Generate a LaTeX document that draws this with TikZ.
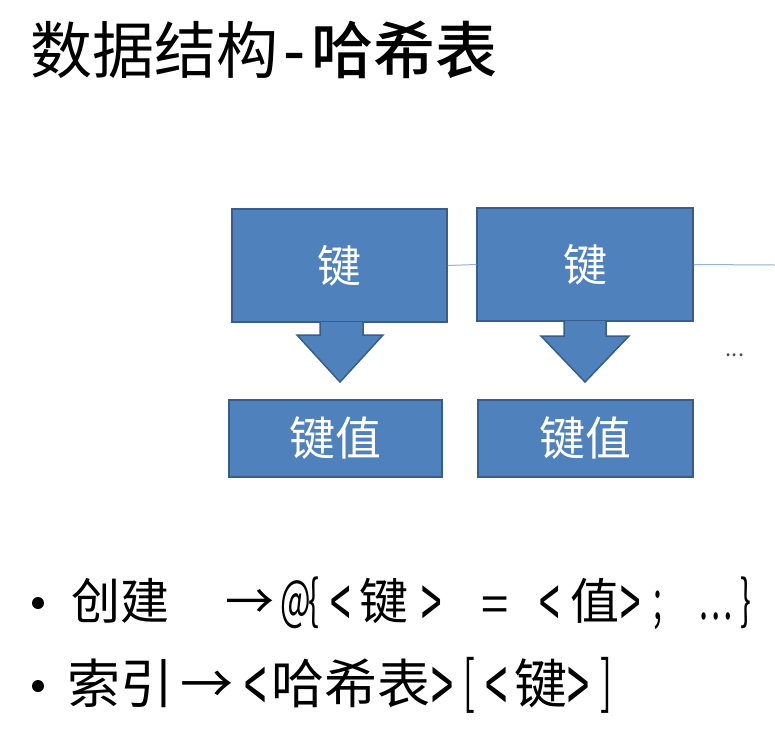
\documentclass[tikz,border=0pt]{standalone}
\usepackage{fontspec}
\setmainfont{Noto Sans CJK SC}
\newfontfamily\titlebold{Noto Sans CJK SC Medium}
\newfontfamily\narrow[Scale=1.1,FakeStretch=0.6]{Noto Sans CJK SC}
\newfontfamily\narrowbig[Scale=1.5,FakeStretch=0.5]{Noto Sans CJK SC}
\definecolor{boxblue}{RGB}{79,129,189}
\definecolor{boxedge}{RGB}{56,93,138}
\definecolor{linkblue}{RGB}{150,178,214}
% put #2 centred at x = #1 (line nodes start at x = 0)
\newcommand\putc[2]{\makebox[0pt][l]{\hspace*{#1pt}\makebox[0pt]{#2}}}
\newcommand\putn[2]{\putc{#1}{\narrow #2}}
\newcommand\putm[2]{\putc{#1}{\narrowbig\raisebox{-0.14em}{#2}}}
\tikzset{
  keybox/.style={draw=boxedge,fill=boxblue,line width=1.5pt,text=white,
    inner sep=0pt,font=\fontsize{44}{44}\selectfont},
  downarrow/.style={draw=boxedge,fill=boxblue,line width=1.5pt,line join=miter},
  link/.style={draw=linkblue,line width=1pt},
  bulletdot/.style={circle,fill=black,inner sep=0pt,minimum size=12pt},
  linetext/.style={anchor=base west,inner sep=0pt},
}
\begin{document}
\begin{tikzpicture}[x=1pt,y=-1pt]
\useasboundingbox[fill=white] (0,0) rectangle (775,729);

\node[anchor=base west,inner sep=0pt,font=\fontsize{62}{62}\selectfont] (title) at (30,73)
  {数据结构{\titlebold\hspace{5pt}-\hspace{6pt}哈希表}};

\node[keybox,minimum width=215pt,minimum height=113pt] (key1) at (339.5,265.5) {键};
\node[keybox,minimum width=216pt,minimum height=113pt] (key2) at (585,264.5) {键};
\node[keybox,minimum width=213pt,minimum height=77pt,font=\fontsize{46}{46}\selectfont] (val1) at (335.5,438.5) {键值};
\node[keybox,minimum width=215pt,minimum height=77pt,font=\fontsize{46}{46}\selectfont] (val2) at (585.5,438.5) {键值};

\draw[downarrow] (320,322) -- (320,335) -- (297,335) -- (340,382) -- (383,335) -- (363,335) -- (363,322);
\draw[downarrow] (564,321) -- (564,336) -- (541,336) -- (585,382) -- (629,336) -- (606,336) -- (606,321);

\coordinate (more) at (775,265);
\draw[link] (key1.east) -- (key2.west);
\draw[link] (key2.east) -- (more);
\node[inner sep=0pt,text=black!70,font=\fontsize{22}{22}\selectfont] (gap) at (735,355) {...};

\node[bulletdot] (dot1) at (38,603) {};
\node[linetext,font=\fontsize{49}{49}\selectfont] (create) at (0,619)
  {\putc{120}{创建}\putc{249}{→}\putn{295}{@}\putn{313}{\{}\putm{340}{<}\putc{383}{键}%
   \putm{431}{>}\putc{494}{\raisebox{-3pt}{=}}\putm{549}{<}\putc{594}{值}\putm{630}{>}\putn{657}{;}%
   \putn{715}{…}\putn{745}{\}}};
\node[bulletdot] (dot2) at (38,686) {};
\node[linetext,font=\fontsize{53}{53}\selectfont] (index) at (0,703)
  {\putc{120}{索引}\putc{206}{→}\putm{255}{<}\putc{350}{哈希表}\putm{442}{>}\putn{469}{[}%
   \putm{496}{<}\putc{540}{键}\putm{578}{>}\putn{606}{]}};
\end{tikzpicture}
\end{document}
